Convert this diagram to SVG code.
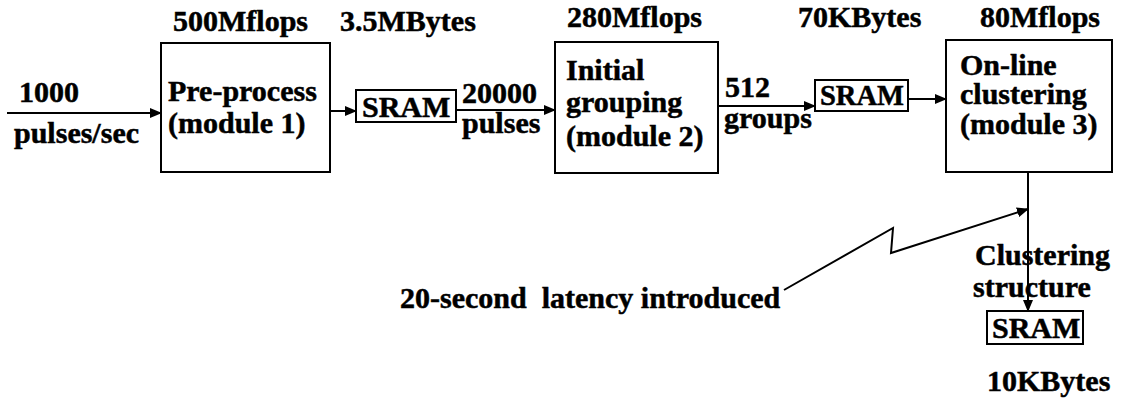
<svg xmlns="http://www.w3.org/2000/svg" width="1123" height="402" viewBox="0 0 1123 402">
<style>
text{font-family:"Liberation Serif","Times New Roman",serif;font-weight:bold;font-size:30px;fill:#000;stroke:#000;stroke-width:0.5}
.box{fill:none;stroke:#000;stroke-width:2}
.ln{fill:none;stroke:#000;stroke-width:2}
</style>
<defs>
<marker id="ah" markerWidth="12" markerHeight="10" refX="11" refY="5" orient="auto" markerUnits="userSpaceOnUse">
<path d="M0,0 L12,5 L0,10 Z" fill="#000"/>
</marker>
</defs>
<rect width="1123" height="402" fill="#fff"/>
<g id="connectors">
<line class="ln" x1="7" y1="113" x2="161" y2="113" marker-end="url(#ah)"/>
<line class="ln" x1="330" y1="111" x2="356" y2="111" marker-end="url(#ah)"/>
<line class="ln" x1="456" y1="110" x2="555" y2="110" marker-end="url(#ah)"/>
<line class="ln" x1="718" y1="106" x2="815" y2="106" marker-end="url(#ah)"/>
<line class="ln" x1="908" y1="99" x2="946" y2="99" marker-end="url(#ah)"/>
<line class="ln" x1="1028" y1="172" x2="1028" y2="311" marker-end="url(#ah)"/>
<polyline class="ln" points="784,290 893,228 891,253 1028,209" marker-end="url(#ah)"/>
</g>
<g id="labels">
<text x="19" y="102">1000</text>
<text x="14" y="143">pulses/sec</text>
<text x="173" y="31">500Mflops</text>
<text x="340" y="31">3.5MBytes</text>
<text x="462" y="103">20000</text>
<text x="462" y="133">pulses</text>
<text x="567" y="27">280Mflops</text>
<text x="725" y="97">512</text>
<text x="724" y="128">groups</text>
<text x="798" y="27">70KBytes</text>
<text x="980" y="27">80Mflops</text>
<text x="975" y="265">Clustering</text>
<text x="973" y="297">structure</text>
<text x="987" y="391">10KBytes</text>
<text x="400" y="308" xml:space="preserve">20-second  latency introduced</text>
</g>
<g id="preprocess">
<rect class="box" x="161" y="43" width="169" height="129"/>
<text x="168" y="101">Pre-process</text>
<text x="168" y="133">(module 1)</text>
</g>
<g id="sram1">
<rect class="box" x="356" y="90" width="100" height="32"/>
<text x="362" y="117">SRAM</text>
</g>
<g id="grouping">
<rect class="box" x="555" y="42" width="163" height="131"/>
<text x="566" y="80">Initial</text>
<text x="566" y="112">grouping</text>
<text x="566" y="146">(module 2)</text>
</g>
<g id="sram2">
<rect class="box" x="815" y="80" width="93" height="31"/>
<text x="820" y="105" textLength="84" lengthAdjust="spacingAndGlyphs">SRAM</text>
</g>
<g id="clustering">
<rect class="box" x="946" y="40" width="166" height="132"/>
<text x="960" y="75">On-line</text>
<text x="960" y="104">clustering</text>
<text x="960" y="134">(module 3)</text>
</g>
<g id="sram3">
<rect class="box" x="987" y="311" width="96" height="33"/>
<text x="992" y="338">SRAM</text>
</g>
</svg>
